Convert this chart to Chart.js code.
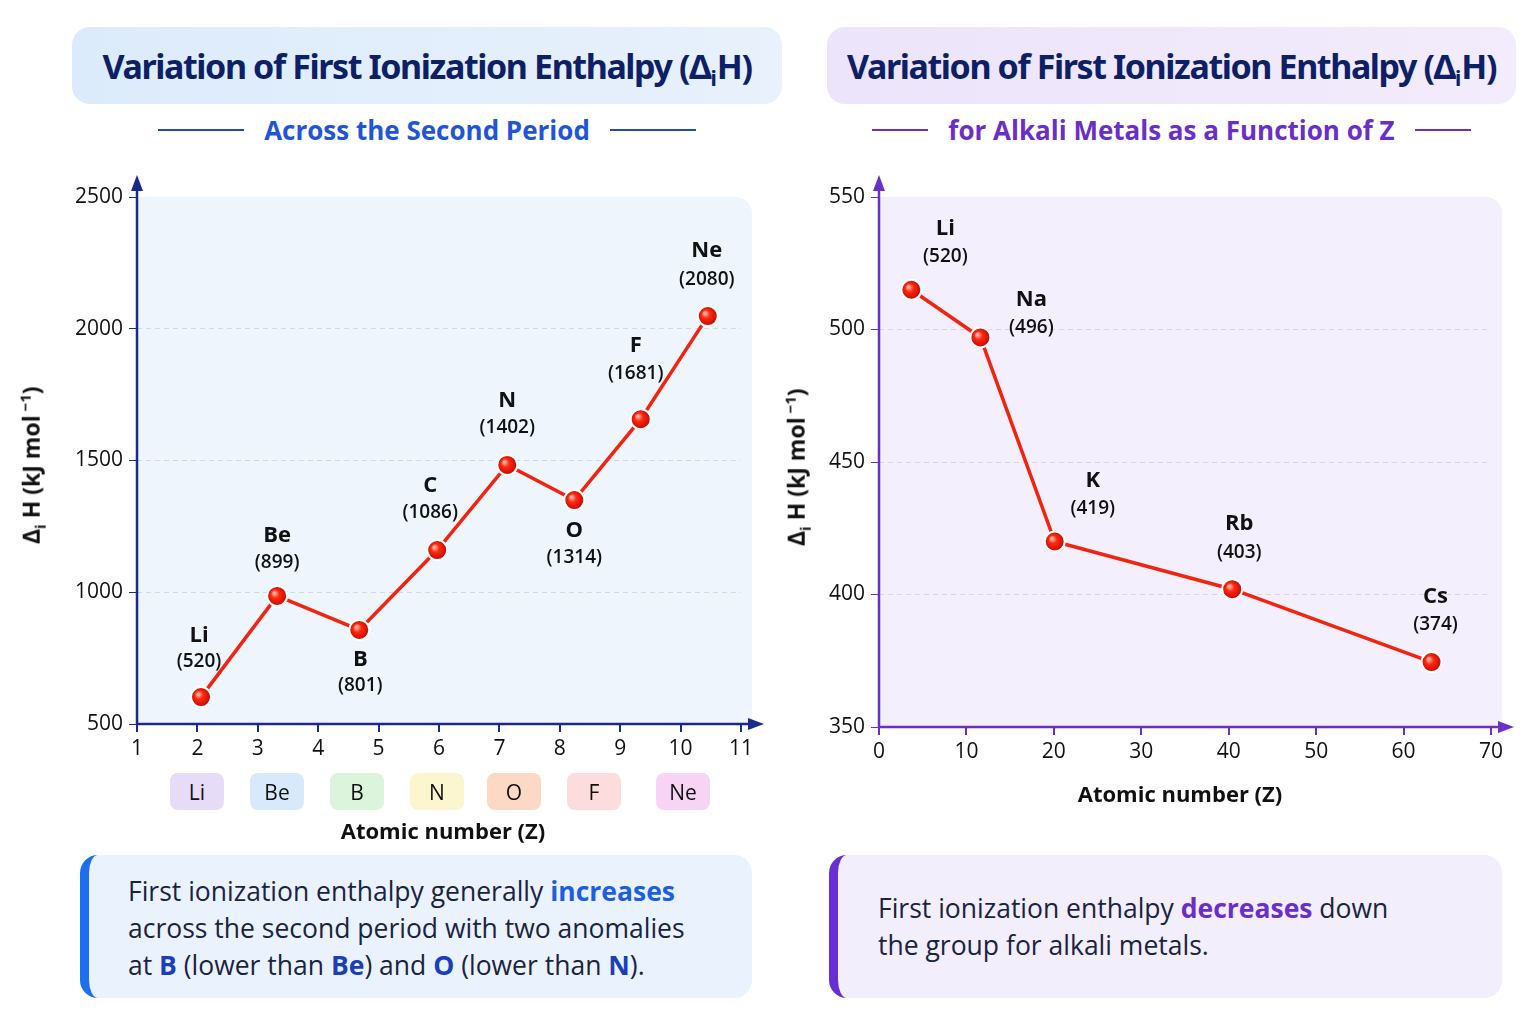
<!DOCTYPE html>
<html>
<head>
<meta charset="utf-8">
<script src="https://cdn.jsdelivr.net/npm/chart.js@4/dist/chart.umd.min.js"></script>
<style>
  body { margin: 0; width: 1536px; height: 1024px; background: #fff; font-family: "Open Sans", "Noto Sans", sans-serif; position: relative; overflow: hidden; }
  .abs { position: absolute; }
  .titlebox { top: 27px; height: 77px; border-radius: 18px; display: flex; align-items: center; justify-content: center; white-space: nowrap;
    font-family: "Noto Sans", sans-serif; font-weight: 700; font-size: 34px; color: #0d1f66; letter-spacing: -1.4px; }
  .titlebox sub { font-size: 21px; letter-spacing: 0; vertical-align: -7px; line-height: 0; }
  .sub { top: 110px; height: 40px; display: flex; align-items: center; justify-content: center; font-weight: 700; font-size: 26px; white-space: nowrap; }
  .sub .ln { display: inline-block; width: 86px; height: 2px; margin: 0 20px; }
  .ytitle { font-weight: 700; font-size: 23px; color: #111; transform: rotate(-90deg); transform-origin: center; white-space: nowrap; width: 260px; text-align: center; }
  .xtitle { font-weight: 700; font-size: 22px; color: #111; text-align: center; width: 400px; }
  .badge { top: 773px; height: 37px; width: 54px; border-radius: 8px; font-size: 21px; color: #111; display: flex; align-items: center; justify-content: center; }
  .note { border-radius: 18px; font-size: 26.5px; color: #1a2340; line-height: 37px; box-sizing: border-box; white-space: nowrap; }
  canvas { position: absolute; }
</style>
</head>
<body>
<div class="abs titlebox" style="left:72px;width:710px;background:linear-gradient(90deg,#dcebfb,#e8f1fc);"><span>Variation of First Ionization Enthalpy (Δ<sub>i</sub>H)</span></div>
<div class="abs titlebox" style="left:827px;width:689px;background:linear-gradient(90deg,#ece4fa,#f2ecfc);"><span>Variation of First Ionization Enthalpy (Δ<sub>i</sub>H)</span></div>
<div class="abs sub" style="left:72px;width:710px;color:#1f55d6;"><span class="ln" style="background:#2448b8"></span>Across the Second Period<span class="ln" style="background:#2448b8"></span></div>
<div class="abs sub" style="left:827px;width:689px;color:#6a2fc8;"><span class="ln" style="background:#6a2fc8;width:56px"></span>for Alkali Metals as a Function of Z<span class="ln" style="background:#6a2fc8;width:56px"></span></div>

<canvas id="left" width="770" height="860" style="left:0;top:0;width:770px;height:860px"></canvas>
<canvas id="right" width="766" height="860" style="left:770px;top:0;width:766px;height:860px"></canvas>

<div class="abs ytitle" style="left:-98px;top:448px;">Δ<sub style="font-size:15px">i</sub> H (kJ mol<sup style="font-size:15px"> −1</sup>)</div>
<div class="abs ytitle" style="left:667px;top:450px;">Δ<sub style="font-size:15px">i</sub> H (kJ mol<sup style="font-size:15px"> −1</sup>)</div>
<div class="abs xtitle" style="left:243px;top:815px;">Atomic number (Z)</div>
<div class="abs xtitle" style="left:980px;top:778px;">Atomic number (Z)</div>

<div id="badges"></div>

<div class="abs note" style="left:80px;top:855px;width:672px;height:143px;background:#eaf3fd;border-left:9px solid #1d6ff0;padding:18px 0 0 39px;">
First ionization enthalpy generally <b style="color:#1d5fe0">increases</b><br>across the second period with two anomalies<br>at <b style="color:#1a3fb8">B</b> (lower than <b style="color:#1a3fb8">Be</b>) and <b style="color:#1a3fb8">O</b> (lower than <b style="color:#1a3fb8">N</b>).
</div>
<div class="abs note" style="left:829px;top:855px;width:673px;height:143px;background:#f3eefc;border-left:9px solid #6a2fd0;padding:35px 0 0 40px;">
First ionization enthalpy <b style="color:#6a2fc8">decreases</b> down<br>the group for alkali metals.
</div>

<script>
// second period
const periodNames = ['Li', 'Be', 'B', 'C', 'N', 'O', 'F', 'Ne'];
const periodLabels = ['520', '899', '801', '1086', '1402', '1314', '1681', '2080'];
const periodX = [2.06, 3.32, 4.68, 5.97, 7.13, 8.24, 9.34, 10.45];
const periodY = [602, 986, 857, 1160, 1483, 1350, 1657, 2048];
const periodXTicks = [1, 11];
const periodYTicks = [500, 2500];

// alkali metals
const alkaliNames = ['Li', 'Na', 'K', 'Rb', 'Cs'];
const alkaliLabels = ['520', '496', '419', '403', '374'];
const alkaliX = [3.7, 11.6, 20.1, 40.4, 63.2];
const alkaliY = [515, 497, 420, 402, 374.5];
const alkaliXTicks = [0, 70];
const alkaliYTicks = [350, 550];

// badges under left x axis
const badgeNames = ['Li', 'Be', 'B', 'N', 'O', 'F', 'Ne'];
const badgeColors = ['#e6dcf8', '#d8e9fb', '#dcf3dc', '#fcf6d0', '#fbd9c4', '#fcdcdc', '#f8d4f4'];
const badgeLeft = [170, 250, 330, 410, 487, 567, 656];

const badgeBox = document.getElementById('badges');
badgeNames.forEach(function(n, i) {
  const d = document.createElement('div');
  d.className = 'abs badge';
  d.style.left = badgeLeft[i] + 'px';
  d.style.background = badgeColors[i];
  d.textContent = n;
  badgeBox.appendChild(d);
});

const leftOffsets = [[-2, -61, -36], [0, -60, -33], [1, 30, 56], [-7, -64, -37], [0, -64, -37], [0, 31, 58], [-5, -73, -46], [-1, -65, -37]];
const rightOffsets = [[34, -61, -33], [51, -38, -10], [38, -61, -33], [7, -65, -37], [4, -65, -37]];

function ballColor(context) {
  const el = context.element;
  if (!el || el.x == null) return '#e81a0c';
  const c = context.chart.ctx;
  const g = c.createRadialGradient(el.x - 3, el.y - 3, 1, el.x, el.y, 10);
  g.addColorStop(0, '#ffb0a0');
  g.addColorStop(0.35, '#ff2a10');
  g.addColorStop(1, '#c00800');
  return g;
}

function panelPlugin(bg, axisColor, panelRight, names, labels, offsets) {
  return {
    id: 'panel',
    beforeDraw(chart) {
      const c = chart.ctx, a = chart.chartArea;
      c.save();
      c.fillStyle = bg;
      c.beginPath();
      c.roundRect(a.left, a.top, panelRight - a.left, a.bottom - a.top, [0, 16, 0, 0]);
      c.fill();
      c.restore();
    },
    afterDatasetsDraw(chart) {
      const c = chart.ctx, a = chart.chartArea;
      c.save();
      c.strokeStyle = axisColor;
      c.fillStyle = axisColor;
      c.lineWidth = 2.5;
      c.beginPath();
      c.moveTo(a.left, a.bottom);
      c.lineTo(a.left, a.top - 14);
      c.moveTo(a.left, a.bottom);
      c.lineTo(panelRight + 4, a.bottom);
      c.stroke();
      c.beginPath();
      c.moveTo(a.left, a.top - 22); c.lineTo(a.left - 6, a.top - 6); c.lineTo(a.left + 6, a.top - 6); c.fill();
      c.beginPath();
      c.moveTo(panelRight + 12, a.bottom); c.lineTo(panelRight - 4, a.bottom - 6); c.lineTo(panelRight - 4, a.bottom + 6); c.fill();

      const meta = chart.getDatasetMeta(0);
      c.fillStyle = '#111';
      c.textAlign = 'center';
      c.textBaseline = 'middle';
      meta.data.forEach(function(p, i) {
        const o = offsets[i];
        c.font = 'bold 22px "Open Sans"';
        c.fillText(names[i], p.x + o[0], p.y + o[1]);
        c.font = '600 19px "Open Sans"';
        c.fillText('(' + labels[i] + ')', p.x + o[0], p.y + o[2]);
      });
      c.restore();
    }
  };
}

function makeChart(id, xs, ys, xTicks, yTicks, xStep, yStep, pad, yWidth, xHeight, bg, axisColor, gridColor, panelRight, names, labels, offsets) {
  const points = xs.map(function(x, i) { return { x: x, y: ys[i] }; });
  return new Chart(document.getElementById(id), {
    type: 'scatter',
    data: {
      datasets: [{
        data: points,
        showLine: true,
        borderColor: '#f2230f',
        borderWidth: 3.5,
        pointRadius: 10,
        pointHoverRadius: 10,
        pointBackgroundColor: ballColor,
        pointBorderColor: '#ffffff',
        pointBorderWidth: 2,
      }]
    },
    options: {
      responsive: false,
      animation: false,
      layout: { padding: pad },
      plugins: { legend: { display: false }, tooltip: { enabled: false } },
      scales: {
        x: {
          type: 'linear',
          min: xTicks[0], max: xTicks[1],
          afterFit: function(s) { s.height = xHeight; },
          ticks: { stepSize: xStep, color: '#111', font: { size: 21, family: 'Open Sans' }, padding: 4, callback: function(v) { return String(v); } },
          grid: { drawOnChartArea: false, tickLength: 8, tickColor: axisColor, lineWidth: 2 },
          border: { display: false }
        },
        y: {
          min: yTicks[0], max: yTicks[1],
          afterFit: function(s) { s.width = yWidth; },
          ticks: { stepSize: yStep, color: '#111', font: { size: 21, family: 'Open Sans' }, padding: 6, callback: function(v) { return String(v); } },
          grid: {
            tickLength: 8, tickColor: axisColor, lineWidth: 1,
            color: function(ctx) { const v = ctx.tick && ctx.tick.value; return (v === yTicks[0] || v === yTicks[1]) ? 'rgba(0,0,0,0)' : gridColor; }
          },
          border: { display: false, dash: [5, 4] }
        }
      }
    },
    plugins: [panelPlugin(bg, axisColor, panelRight, names, labels, offsets)]
  });
}

makeChart('left', periodX, periodY, periodXTicks, periodYTicks, 1, 500,
  { left: 0, top: 197, right: 29, bottom: 86 }, 137, 50,
  '#eef5fd', '#1a2a8c', '#c7dcf3', 752, periodNames, periodLabels, leftOffsets);

makeChart('right', alkaliX, alkaliY, alkaliXTicks, alkaliYTicks, 10, 50,
  { left: 0, top: 197, right: 45, bottom: 83 }, 109, 50,
  '#f3effc', '#6a2fc8', '#dcd2f0', 732, alkaliNames, alkaliLabels, rightOffsets);
</script>
</body>
</html>
